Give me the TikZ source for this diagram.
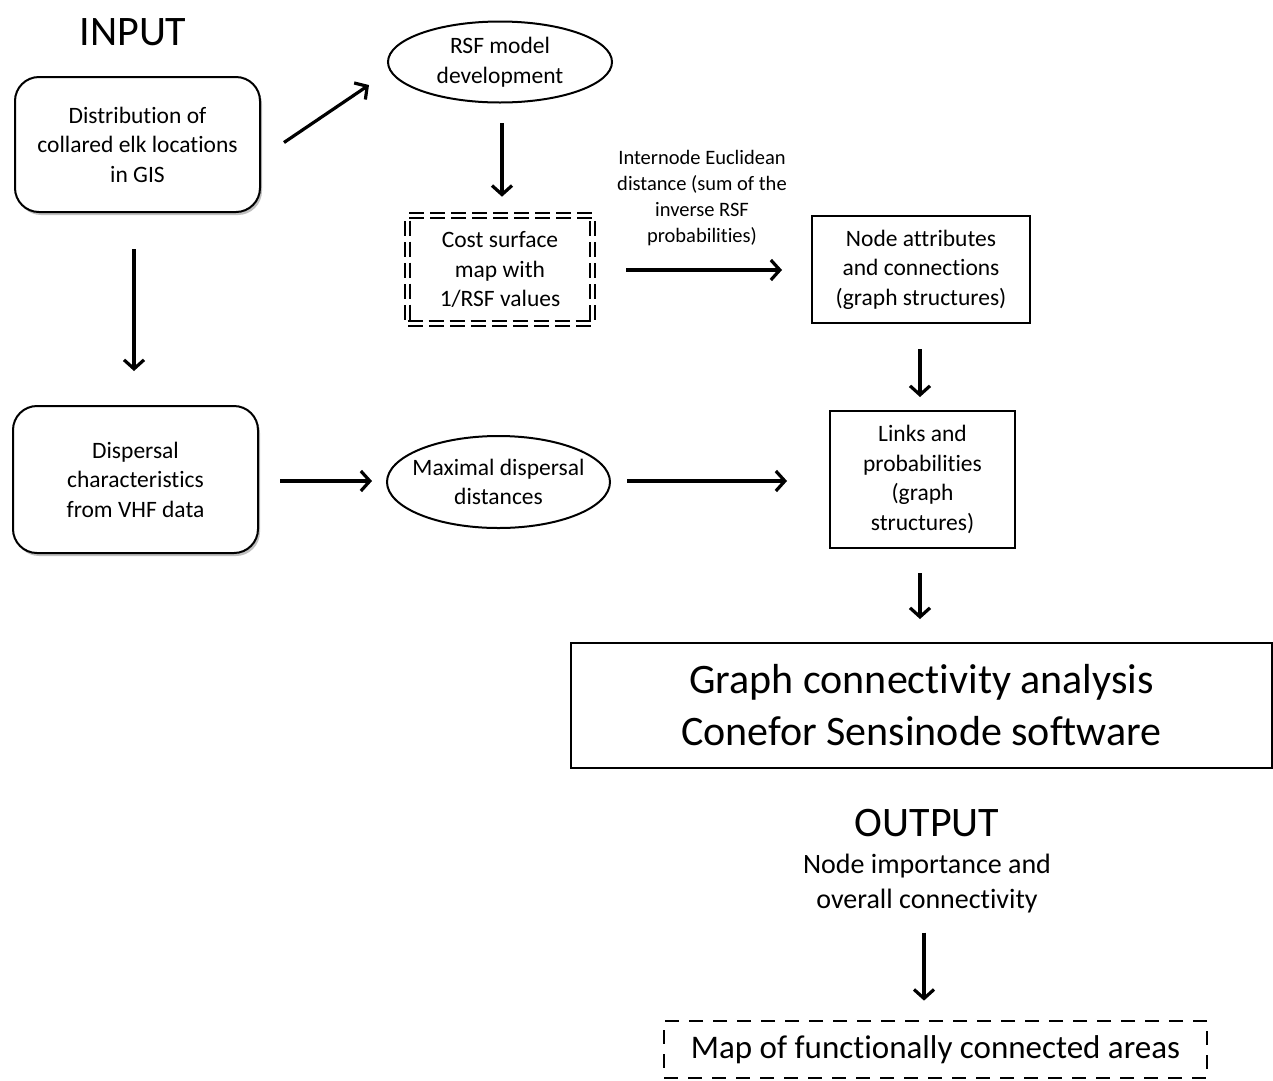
\documentclass[tikz,border=0pt]{standalone}
\usepackage{fontspec}
\setmainfont[Ligatures=NoCommon]{Carlito}
\usetikzlibrary{arrows.meta,shadows,shapes.geometric}
\begin{document}
\begin{tikzpicture}[x=1pt,y=-1pt,
  txt/.style={font=\fontsize{23.5}{29.5}\selectfont, align=center, inner sep=0pt},
  bigtxt/.style={font=\fontsize{42}{52}\selectfont, align=center, inner sep=0pt},
  midtxt/.style={font=\fontsize{28}{35}\selectfont, align=center, inner sep=0pt},
  smalltxt/.style={font=\fontsize{20.5}{26.3}\selectfont, align=center, inner sep=0pt},
  rbox/.style={txt, draw, line width=2pt, rounded corners=24pt, fill=white,
    drop shadow={shadow xshift=2pt, shadow yshift=-3pt, opacity=0.35, fill=black!70}},
  sbox/.style={txt, draw, line width=2pt},
  ell/.style={txt, ellipse, draw, line width=2pt},
  dbox/.style={txt, draw, line width=1.6pt, double, double distance=3pt, dash pattern=on 15pt off 6pt},
  dashbox/.style={draw, line width=2.8pt, dash pattern=on 14pt off 10pt, inner sep=0pt, align=center,
    font=\fontsize{33}{40}\selectfont},
  arr/.style={line width=3.2pt, -{Straight Barb[length=9pt,width=20pt]}}
]
\path[use as bounding box, fill=white] (0,0) rectangle (1273,1080);

\node[bigtxt] (input) at (133,32) {INPUT};
\node[rbox, minimum width=245pt, minimum height=135pt] (dist) at (137.5,144.5)
  {Distribution of\\collared elk locations\\in GIS};
\node[ell, minimum width=224pt, minimum height=81pt] (rsf) at (500,62)
  {RSF model\\development};
\node[dbox, minimum width=185pt, minimum height=108pt] (cost) at (500,269.5)
  {Cost surface\\map with\\1/RSF values};
\node[smalltxt] (lbl) at (702,198)
  {Internode Euclidean\\distance (sum of the\\inverse RSF\\probabilities)};
\node[sbox, minimum width=218pt, minimum height=107pt] (attr) at (921,269.5)
  {Node attributes\\and connections\\(graph structures)};
\node[rbox, minimum width=245pt, minimum height=147pt] (disp) at (135.5,479.5)
  {Dispersal\\characteristics\\from VHF data};
\node[ell, inner xsep=-14pt, minimum width=223pt, minimum height=92pt] (maxd) at (498.5,482)
  {Maximal dispersal\\distances};
\node[sbox, minimum width=185pt, minimum height=137pt] (links) at (922.5,479.5)
  {Links and\\probabilities\\(graph\\structures)};
\node[bigtxt, draw, line width=2pt, minimum width=701pt, minimum height=125pt] (graph) at (921.5,705.5)
  {Graph connectivity analysis\\Conefor Sensinode software};
\node[bigtxt] (output) at (927,823) {OUTPUT};
\node[midtxt] (imp) at (927,884) {Node importance and\\overall connectivity};
\node[dashbox, minimum width=543pt, minimum height=57pt] (map) at (935.5,1049.5)
  {Map of functionally connected areas};

\draw[arr] ([shift={(23,-2)}]dist.east) -- ([shift={(-18,23)}]rsf.west);
\draw[arr] ([shift={(2,19.5)}]rsf.south) -- ([shift={(2,-18)}]cost.north);
\draw[arr] ([shift={(-3.5,36)}]dist.south) -- ([shift={(-1.5,-34)}]disp.north);
\draw[arr] ([shift={(33,0.5)}]cost.east) -- ([shift={(-29,0.5)}]attr.west);
\draw[arr] ([shift={(-1,25)}]attr.south) -- ([shift={(-2.5,-13)}]links.north);
\draw[arr] ([shift={(21,1.5)}]disp.east) -- ([shift={(-14,-1)}]maxd.west);
\draw[arr] ([shift={(16,-1)}]maxd.east) -- ([shift={(-42,1.5)}]links.west);
\draw[arr] ([shift={(-2.5,24)}]links.south) -- ([shift={(-1.5,-23)}]graph.north);
\draw[arr] ([shift={(-11.5,-87)}]map.north) -- ([shift={(-11.5,-19)}]map.north);
\end{tikzpicture}
\end{document}
